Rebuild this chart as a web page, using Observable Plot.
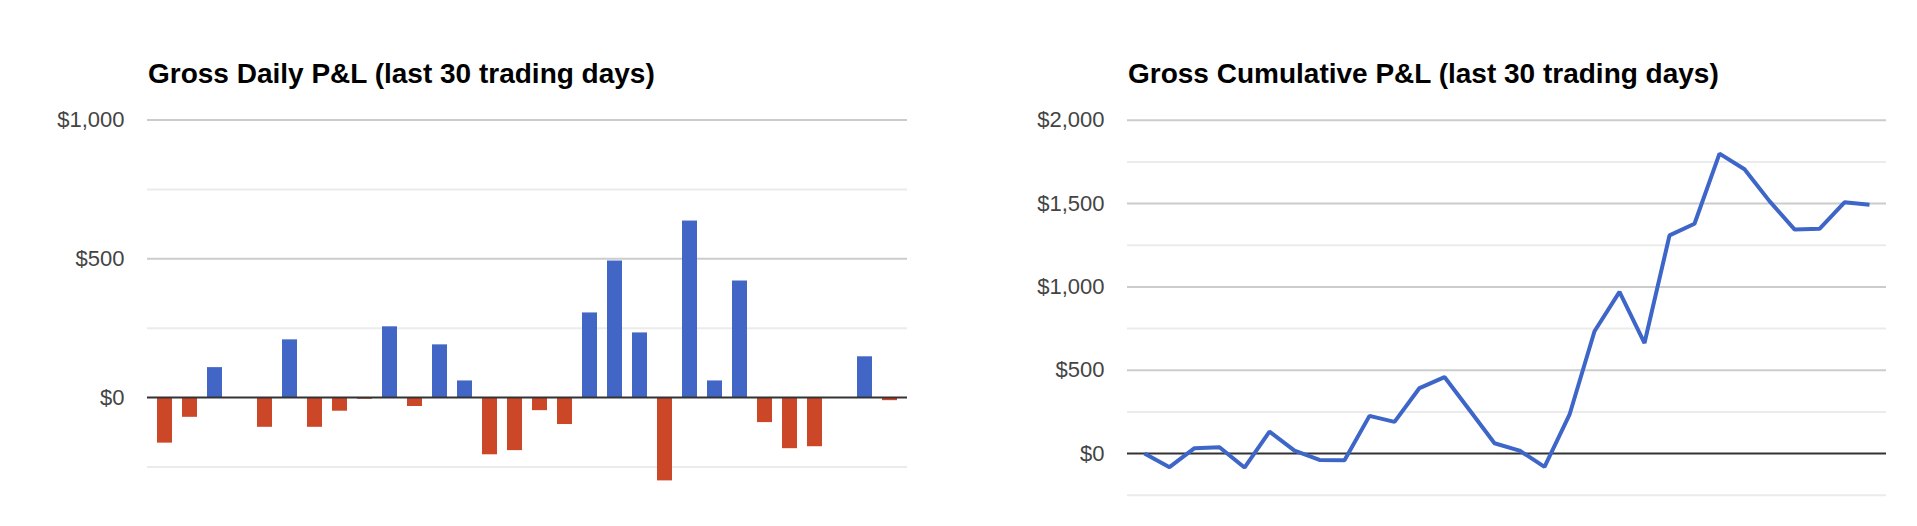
<!DOCTYPE html>
<html>
<head>
<meta charset="utf-8">
<script src="https://cdn.jsdelivr.net/npm/d3@7"></script>
<script src="https://cdn.jsdelivr.net/npm/@observablehq/plot@0.6"></script>
<style>
  html, body { margin: 0; padding: 0; background: #fff; }
  body { width: 1917px; height: 526px; position: relative; overflow: hidden; font-family: "Liberation Sans", Arial, sans-serif; }
  .title { position: absolute; font: bold 28px/28px "Liberation Sans", Arial, sans-serif; color: #000; white-space: nowrap; }
  .chart { position: absolute; }
</style>
</head>
<body>
<div class="title" id="t1" style="left:148px; top:60px;"></div>
<div class="title" id="t2" style="left:1128px; top:60px;"></div>
<div class="chart" id="c1" style="left:0px; top:100px;"></div>
<div class="chart" id="c2" style="left:1000px; top:100px;"></div>
<script>
// ---- data ----
const dailyTitle = "Gross Daily P&L (last 30 trading days)";
const cumulativeTitle = "Gross Cumulative P&L (last 30 trading days)";
const days = d3.range(1, 31).map(d => "Day " + d);
const dailyPnl = [-164, -71, 108, 0, -107, 208, -107, -49, -6, 255,
                  -32, 190, 60, -206, -191, -47, -97, 305, 492, 233,
                  -300, 636, 60, 420, -90, -184, -177, 0, 147, -11];
const cumulativePnl = [0, -82, 32, 38, -84, 132, 18, -38, -40, 226,
                       190, 393, 459, 261, 62, 18, -80, 233, 734, 970,
                       663, 1309, 1379, 1800, 1706, 1515, 1345, 1349, 1508, 1493];
const dailyTickValues = [0, 500, 1000];
const dailyMinorGrid = [-250, 250, 750];
const dailyMajorGrid = [500, 1000];
const cumulativeTickValues = [0, 500, 1000, 1500, 2000];
const cumulativeMinorGrid = [-250, 250, 750, 1250, 1750];
const cumulativeMajorGrid = [500, 1000, 1500, 2000];

// ---- tables ----
const dailyRows = days.map((day, i) => ({day, value: dailyPnl[i]}));
const cumRows = days.map((day, i) => ({day, value: cumulativePnl[i]}));

const money = d => "$" + d3.format(",")(d);
const BLUE = "#4166c5", RED = "#cc4628", LINE = "#3e66c8";

document.getElementById("t1").textContent = dailyTitle;
document.getElementById("t2").textContent = cumulativeTitle;

const axisOpts = {tickSize: 0, tickPadding: 23, fontSize: 22, color: "#444", tickFormat: money, label: null};
const fontStyle = {fontFamily: "'Liberation Sans', Arial, sans-serif", fontSize: "22px", background: "transparent", overflow: "visible"};

const chart1 = Plot.plot({
  width: 930,
  height: 400,
  marginLeft: 147,
  marginRight: 23,
  marginTop: 19.5,
  marginBottom: 33.5,
  style: fontStyle,
  x: {type: "band", domain: days, paddingInner: 0.382, paddingOuter: 0.191, axis: null},
  y: {domain: [-250, 1000], axis: null},
  marks: [
    Plot.ruleY(dailyMinorGrid, {stroke: "#ebebeb", strokeWidth: 2}),
    Plot.ruleY(dailyMajorGrid, {stroke: "#cccccc", strokeWidth: 2}),
    Plot.barY(dailyRows, {x: "day", y: "value", fill: d => d.value >= 0 ? BLUE : RED}),
    Plot.ruleY([0], {stroke: "#333", strokeWidth: 2}),
    Plot.axisY({...axisOpts, ticks: dailyTickValues})
  ]
});
document.getElementById("c1").append(chart1);

const chart2 = Plot.plot({
  width: 917,
  height: 400,
  marginLeft: 127,
  marginRight: 31,
  marginTop: 19.8,
  marginBottom: 5.3,
  style: fontStyle,
  x: {type: "point", domain: days, padding: 0.5, axis: null},
  y: {domain: [-250, 2000], axis: null},
  marks: [
    Plot.ruleY(cumulativeMinorGrid, {stroke: "#ebebeb", strokeWidth: 2}),
    Plot.ruleY(cumulativeMajorGrid, {stroke: "#cccccc", strokeWidth: 2}),
    Plot.ruleY([0], {stroke: "#333", strokeWidth: 2}),
    Plot.lineY(cumRows, {x: "day", y: "value", stroke: LINE, strokeWidth: 4, strokeLinejoin: "miter", strokeLinecap: "butt", curve: "linear"}),
    Plot.axisY({...axisOpts, ticks: cumulativeTickValues})
  ]
});
document.getElementById("c2").append(chart2);
</script>
</body>
</html>
